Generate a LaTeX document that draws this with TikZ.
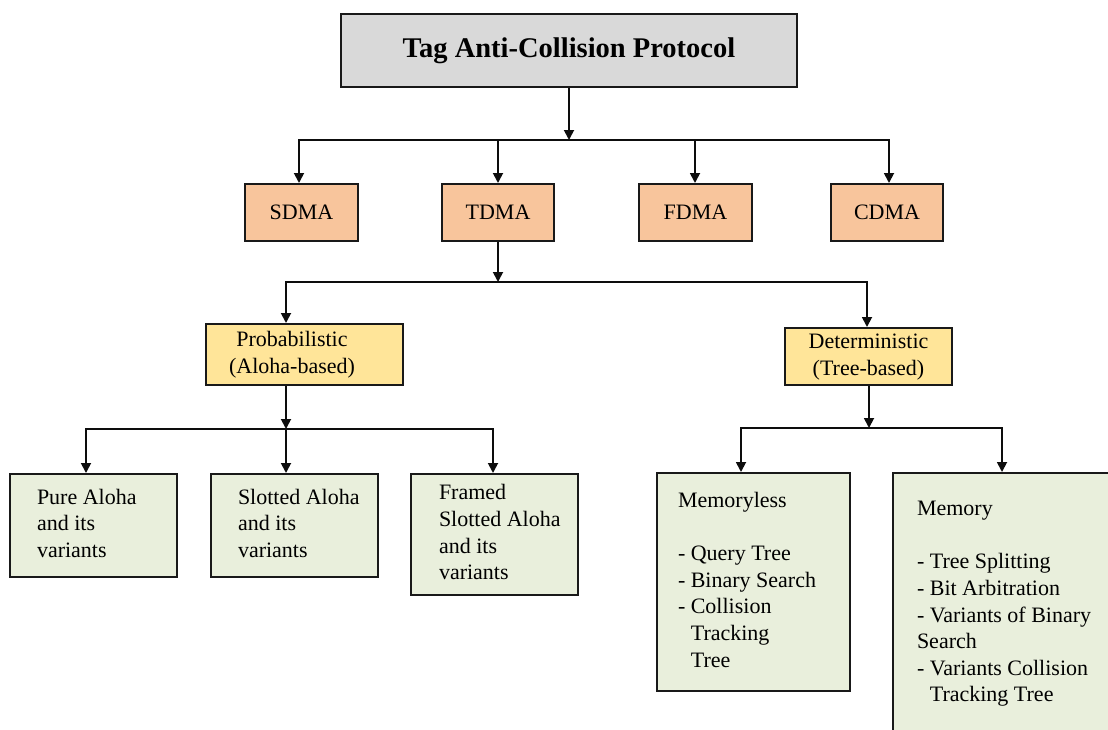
\documentclass[tikz,border=0pt]{standalone}
\usepackage{fontspec}
\setmainfont{Liberation Serif}
\usetikzlibrary{arrows.meta}

\definecolor{titlegray}{HTML}{D9D9D9}
\definecolor{peach}{HTML}{F8C59C}
\definecolor{sand}{HTML}{FFE599}
\definecolor{sage}{HTML}{E9EFDC}

% Left-aligned lines inside a box of width #1, indented by #2
\newcommand\leftblock[3]{\makebox[#1][l]{\hspace*{#2}\begin{tabular}{@{}l@{}}#3\end{tabular}}}
% Centred lines inside a box of width #1, pulled left by half of #2
\newcommand\midblock[3]{\makebox[#1][c]{\begin{tabular}{@{}c@{}}#3\end{tabular}\hspace*{#2}}}

\begin{document}
\begin{tikzpicture}[x=1pt,y=-1pt,
  font=\fontsize{22}{26.6}\selectfont,
  box/.style={rectangle, draw=black!90, line width=2pt, inner sep=0pt},
  titlebox/.style={box, fill=titlegray, font=\fontsize{28.5}{34}\selectfont\bfseries},
  classbox/.style={box, fill=peach, minimum height=57},
  familybox/.style={box, fill=sand},
  leafbox/.style={box, fill=sage},
  link/.style={line width=1.8pt, draw=black!95},
  arr/.style={link, -{Triangle[length=10pt,width=10pt]}},
]
\useasboundingbox (0,0) rectangle (1108,729);
\clip (0,0) rectangle (1108,729);

% root
\node[titlebox, minimum width=456, minimum height=73] (title) at (569,50.5) {Tag Anti-Collision Protocol};

% multiple-access classes
\node[classbox, minimum width=113] (sdma) at (301.5,212.5) {SDMA};
\node[classbox, minimum width=112] (tdma) at (498,212.5) {TDMA};
\node[classbox, minimum width=113] (fdma) at (695.5,212.5) {FDMA};
\node[classbox, minimum width=112] (cdma) at (887,212.5) {CDMA};

% TDMA families
\node[familybox, minimum width=197, minimum height=61] (prob) at (304.5,354.5)
  {\midblock{197pt}{25pt}{Probabilistic\\(Aloha-based)}};
\node[familybox, minimum width=167, minimum height=57] (det) at (868.5,356.5)
  {\begin{tabular}{@{}c@{}}Deterministic\\(Tree-based)\end{tabular}};

% Aloha-based protocols
\node[leafbox, minimum width=167, minimum height=103] (pure) at (93.5,525.5)
  {\leftblock{167pt}{27pt}{Pure Aloha\\and its\\variants}};
\node[leafbox, minimum width=167, minimum height=103] (slotted) at (294.5,525.5)
  {\leftblock{167pt}{27pt}{Slotted Aloha\\and its\\variants}};
\node[leafbox, minimum width=167, minimum height=121] (framed) at (494.5,534.5)
  {\leftblock{167pt}{28pt}{Framed\\Slotted Aloha\\and its\\variants}};

% tree-based protocols
\node[leafbox, minimum width=193, minimum height=218] (memoryless) at (753.5,582)
  {\leftblock{193pt}{21pt}{Memoryless\\ \\- Query Tree\\- Binary Search\\- Collision\\\hphantom{- }Tracking\\\hphantom{- }Tree}};
\node[leafbox, minimum width=260, minimum height=261] (memory) at (1023,603.5)
  {\leftblock{260pt}{24pt}{Memory\\ \\- Tree Splitting\\- Bit Arbitration\\- Variants of Binary\\Search\\- Variants Collision\\\hphantom{- }Tracking Tree}};

% junctions
\coordinate (j1) at (569,140);
\coordinate (j2) at (498,282);
\coordinate (j3) at (286,429);
\coordinate (j4) at (869,428);

% root -> classes
\draw[arr] (title) -- (j1);
\draw[arr] (j1) -| ([xshift=-2.5pt]sdma.north);
\draw[arr] (j1) -| ([xshift=2pt]cdma.north);
\draw[arr] (tdma.north |- j1) -- (tdma.north);
\draw[arr] ([xshift=-0.5pt]fdma.north |- j1) -- ([xshift=-0.5pt]fdma.north);

% TDMA -> families
\draw[arr] (tdma) -- (j2);
\draw[arr] (j2) -| ([xshift=-18.5pt]prob.north);
\draw[arr] (j2) -| ([xshift=-1.5pt]det.north);

% probabilistic -> Aloha variants
\draw[arr] ([xshift=-18.5pt]prob.south) -- (j3);
\draw[arr] (j3) -| ([xshift=-7.5pt]pure.north);
\draw[arr] (j3) -- ([xshift=-8.5pt]slotted.north);
\draw[arr] (j3) -| ([xshift=-1.5pt]framed.north);

% deterministic -> tree variants
\draw[arr] ([xshift=0.5pt]det.south) -- (j4);
\draw[arr] (j4) -| ([xshift=-12.5pt]memoryless.north);
\draw[arr] (j4) -| ([xshift=-21pt]memory.north);
\end{tikzpicture}
\end{document}
